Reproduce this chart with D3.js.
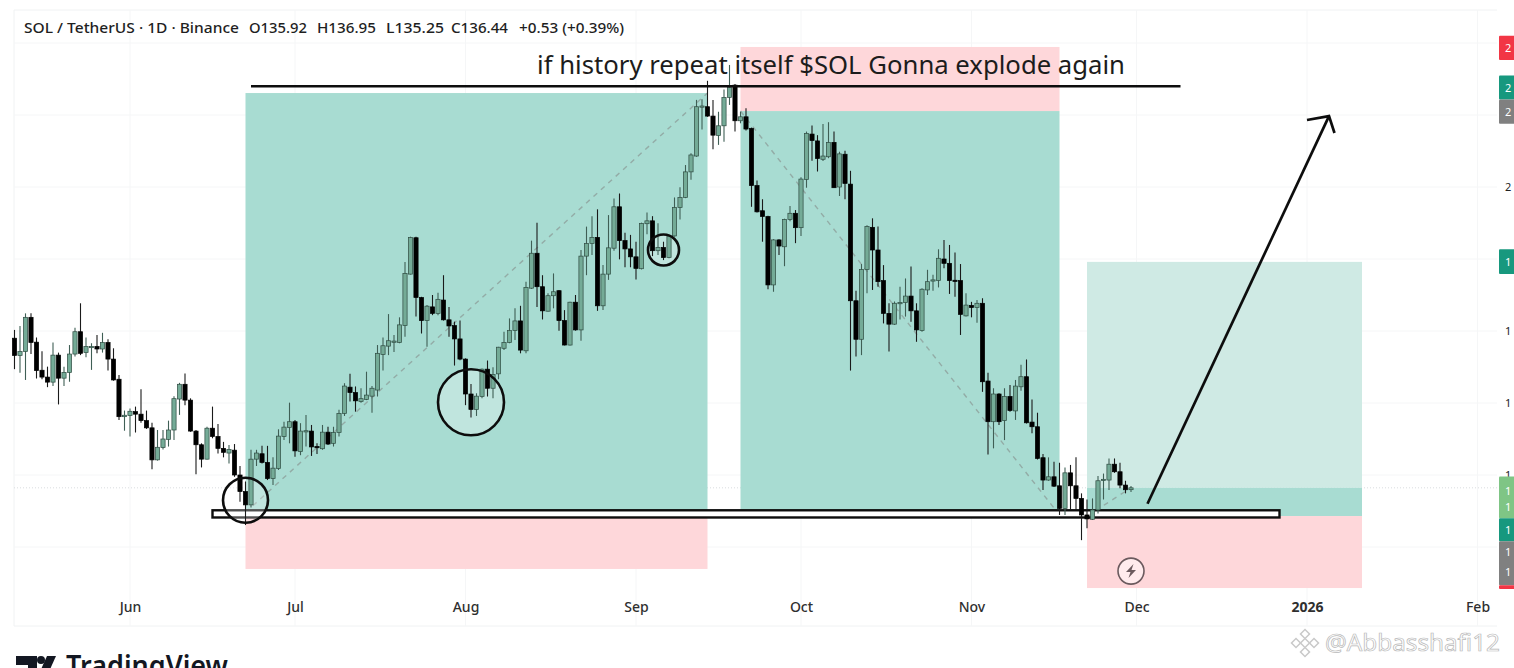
<!DOCTYPE html>
<html>
<head>
<meta charset="utf-8">
<script src="https://cdn.jsdelivr.net/npm/d3@7"></script>
<style>
  html, body { margin: 0; padding: 0; background: #fff; overflow: hidden; }
  svg { display: block; }
</style>
</head>
<body>
<div id="chart"></div>
<script>
// Daily SOL/USDT candles, one per day from the first date on
const firstDay = "2025-05-11";

const opens = [
  178.0,173.2,174.3,183.8,176.9,169.1,167.2,165.8,173.3,166.9,
  168.5,173.6,179.8,174.0,175.5,175.7,175.0,176.8,172.2,166.6,
  156.2,156.5,157.6,156.9,155.1,153.1,144.2,147.6,149.9,152.5,
  161.1,165.2,160.8,152.2,148.4,144.4,153.0,150.7,147.4,146.1,
  146.9,140.0,135.4,131.7,144.4,145.9,143.5,139.0,141.8,150.7,
  153.2,154.8,146.5,152.0,152.2,147.9,147.3,151.9,148.8,151.8,
  157.1,164.4,162.9,160.4,161.0,161.9,163.6,173.5,175.8,177.0,
  176.8,181.5,195.8,205.9,189.3,182.9,186.7,184.9,188.6,183.1,
  181.5,177.8,172.2,162.5,158.2,161.8,169.4,164.1,168.1,175.2,
  176.8,180.1,182.8,174.5,191.9,201.6,192.3,185.5,189.8,191.2,
  182.9,176.1,188.0,180.3,200.8,204.3,206.0,187.0,195.8,203.0,
  214.5,205.1,202.8,200.6,197.3,209.8,210.6,202.3,203.2,200.4,
  206.4,214.3,217.1,
  224.2,228.6,242.3,242.3,239.7,234.3,237.0,
  244.9,248.3,238.4,239.5,236.3,220.4,213.4,211.8,192.8,205.3,
  203.4,211.0,212.7,208.7,222.1,234.7,232.8,227.7,228.4,232.4,
  220.0,229.1,220.8,188.4,177.7,197.1,208.8,202.5,194.0,184.9,
  181.9,187.7,187.9,189.7,185.6,180.1,191.4,194.0,
  194.0,200.0,198.8,194.1,194.0,184.2,187.1,186.5,187.7,166.1,
  154.8,162.5,155.1,161.8,157.8,164.5,167.3,154.7,153.4,144.8,
  138.6,139.5,137.0,130.7,140.6,137.0,133.5,128.9,127.7,130.3,
  138.5,138.6,143.0,140.9,137.2,135.92
];

const highs = [
  180.3,181.4,184.9,184.9,178.2,174.4,170.1,176.8,174.0,170.1,
  176.1,180.9,187.7,178.2,176.6,178.9,179.5,177.7,175.2,167.8,
  157.9,158.5,159.0,163.8,157.9,154.5,152.5,152.5,155.1,161.9,
  165.6,168.2,161.3,152.5,148.8,153.4,159.0,154.2,149.2,148.3,
  148.6,142.5,138.2,147.0,147.0,148.1,148.1,144.9,152.7,154.8,
  160.1,155.3,154.4,156.7,153.9,148.8,153.9,153.4,153.4,158.1,
  165.5,168.1,164.6,164.1,168.7,164.7,176.1,178.2,184.7,178.9,
  183.8,199.2,206.2,206.2,189.5,187.2,190.0,190.6,195.5,186.7,
  182.6,182.9,172.4,165.3,162.7,169.6,171.8,169.9,175.6,179.8,
  183.5,186.3,187.0,193.7,205.1,210.1,195.5,190.5,196.0,191.4,
  185.8,188.1,190.0,202.5,209.0,211.9,213.8,198.3,212.2,216.8,
  218.2,207.3,206.7,204.8,210.1,212.9,211.9,209.9,204.8,206.7,
  217.1,219.9,226.1,
  229.4,244.2,244.4,249.5,244.2,240.9,247.1,
  253.9,248.6,240.9,241.9,236.5,221.8,216.6,212.0,205.5,205.5,
  211.2,214.7,213.6,222.7,235.4,237.1,234.4,237.5,238.0,235.4,
  229.8,230.1,224.5,191.2,198.6,209.4,211.3,209.0,198.3,187.7,
  188.2,192.3,194.6,197.9,187.7,191.9,197.0,195.6,
  202.7,205.3,203.9,201.8,198.6,190.5,188.1,188.6,189.1,168.4,
  164.1,162.7,164.1,165.0,166.4,170.6,172.1,161.0,157.3,145.8,
  144.9,143.7,143.4,142.1,142.8,144.9,134.9,133.2,133.5,139.7,
  140.4,144.6,144.6,143.4,138.4,136.95
];

const lows = [
  169.4,168.4,166.4,173.6,166.8,166.6,164.4,164.7,159.6,164.7,
  165.9,172.9,173.3,172.7,169.2,173.8,174.0,169.0,166.2,155.3,
  152.3,150.7,151.8,154.5,152.8,141.6,144.0,147.1,147.9,149.7,
  156.7,159.4,152.0,140.2,142.1,144.3,150.2,146.0,144.9,143.2,
  139.5,132.6,126.1,131.0,142.5,143.2,138.6,137.2,141.4,149.7,
  148.8,145.1,145.5,147.9,145.3,145.8,147.0,148.3,147.9,150.7,
  156.4,160.4,157.6,160.1,160.8,157.3,161.8,169.0,173.3,174.2,
  176.6,178.4,195.7,184.0,179.3,175.6,184.4,184.4,182.9,178.4,
  170.4,171.9,159.4,156.0,156.4,161.3,161.8,161.3,166.6,174.7,
  176.6,177.5,173.8,173.8,191.7,186.7,183.2,185.4,186.3,180.1,
  176.0,176.0,180.1,177.3,195.5,201.1,185.6,185.8,194.2,202.3,
  199.9,197.7,197.7,194.3,197.1,206.9,200.8,201.1,199.7,200.2,
  206.2,211.0,216.9,
  222.0,228.4,236.0,239.5,230.5,231.7,232.6,
  242.8,235.4,237.7,235.7,214.5,212.9,204.8,191.6,190.9,201.1,
  198.0,210.5,204.4,206.4,219.8,227.3,224.3,227.2,228.0,219.7,
  217.5,216.6,169.0,172.9,173.3,190.5,191.4,192.3,182.1,174.3,
  181.7,183.2,184.0,182.6,177.0,179.8,190.0,191.2,
  192.1,197.4,190.3,189.5,178.9,184.0,183.8,182.3,163.1,145.7,
  147.4,153.9,149.7,157.6,155.3,163.4,154.3,151.6,144.3,135.8,
  138.4,136.7,128.9,128.9,130.3,130.3,121.9,125.2,127.5,129.3,
  133.2,135.8,140.6,136.3,134.9,135.25
];

const closes = [
  173.2,174.3,183.8,176.8,169.0,167.2,165.8,173.3,166.9,168.5,
  173.6,179.8,173.8,175.7,175.7,175.0,176.8,172.2,166.4,156.2,
  156.6,157.7,156.9,155.1,153.1,144.2,147.7,150.0,152.5,161.2,
  165.2,160.8,152.2,148.4,144.4,153.0,150.7,147.4,146.3,147.1,
  140.0,135.4,131.7,144.4,146.1,143.5,139.0,141.9,150.8,153.3,
  154.8,146.7,152.2,152.3,147.8,147.6,151.9,148.6,151.8,157.1,
  164.7,162.9,160.6,161.2,162.2,164.1,173.8,175.9,177.3,177.2,
  181.7,196.0,206.0,189.3,182.9,186.9,184.9,188.8,183.1,181.4,
  177.8,172.2,162.5,158.2,161.9,169.4,164.1,167.9,175.5,176.8,
  180.1,182.8,174.7,192.1,201.6,192.3,185.6,189.8,190.9,182.9,
  176.1,188.0,180.3,200.8,204.3,206.0,187.0,195.8,203.1,214.5,
  205.1,202.8,200.6,197.4,209.9,210.6,202.3,203.2,200.4,206.4,
  214.3,217.1,224.2,
  228.9,242.3,242.5,239.7,234.4,237.0,244.9,
  247.7,238.4,239.5,236.1,220.4,213.1,211.8,192.8,205.3,203.6,
  211.0,212.7,208.7,222.2,234.9,232.9,227.9,228.6,232.4,219.8,
  229.2,221.0,188.4,177.7,197.1,209.0,202.5,193.7,184.9,181.9,
  187.7,187.9,189.7,185.6,180.3,191.6,193.7,194.2,
  200.2,198.8,194.0,193.9,184.6,187.2,186.5,187.7,165.9,154.8,
  162.5,154.8,161.8,157.9,164.7,167.3,154.5,153.4,144.6,138.6,
  139.5,136.9,130.7,140.6,137.0,133.5,128.9,127.8,130.3,138.4,
  138.8,143.0,140.9,137.2,135.9,136.44
];

// Axis content
const monthTicks = ["2025-06-01","2025-07-01","2025-08-01","2025-09-01","2025-10-01","2025-11-01","2025-12-01","2026-01-01","2026-02-01"];
const monthLabels = ["Jun","Jul","Aug","Sep","Oct","Nov","Dec","2026","Feb"];
const priceTicks = [260,240,220,200,180,160,140,120];
// only these stick out from under the badges, and only the first digit is on screen
const plainPriceLabels = [220,180,160,140];
const lastPrice = 136.44;

// Drawn positions: [start, end, top price, entry price, stop price]
const positions = [
  ["2025-06-22","2025-09-14",246.1,128.9,113.9],
  ["2025-09-20","2025-11-17",241.1,128.9,258.9],
  ["2025-11-22","2026-01-11",199.2,128.6,108.6]
];

// Drawings on the chart
const supportZone = ["2025-06-16","2025-12-27",130.2,128.2];
const topLine = ["2025-06-23","2025-12-09",248];
const trendLines = [
  ["2025-06-22",129.6,"2025-09-14",246.1],
  ["2025-09-20",241.1,"2025-11-17",128.9],
  ["2025-11-22",128.6,"2025-11-30",136.44]
];
const circles = [
  ["2025-06-22",133.0,22.5],
  ["2025-08-02",160.2,33],
  ["2025-09-06",202.5,15.5]
];
const arrowLine = [["2025-12-03",132],["2026-01-05",239.7]];
const arrowHead = [["2026-01-01",238.6],["2026-01-05",239.7],["2026-01-06",235]];

// Colored price badges at the right edge: [top price, bottom price, color]
const badges = [
  [262.0,255.3,"#f23645"],
  [251.0,244.3,"#17987e"],
  [244.3,237.6,"#808080"],
  [202.7,195.8,"#17987e"],
  [139.6,128.0,"#7fc585"],
  [128.0,121.6,"#17987e"],
  [121.6,109.4,"#808080"],
  [109.4,108.3,"#f23645"]
];
// Digits in the badges: [price, digit]
const badgeDigits = [
  [258.6,"2"],[247.5,"2"],[240.8,"2"],[199.2,"1"],
  [135.6,"1"],[131.2,"1"],[124.6,"1"],[118.5,"1"],[113.0,"1"]
];

const width = 1514, height = 668;
const parseDay = d3.utcParse("%Y-%m-%d");

const candles = opens.map((o, i) => ({
  date: d3.utcDay.offset(parseDay(firstDay), i),
  open: o, high: highs[i], low: lows[i], close: closes[i]
}));

const svg = d3.select("#chart").append("svg")
  .attr("width", width)
  .attr("height", height)
  .style("font-family", "'Noto Sans', sans-serif");

const x = d3.scaleUtc()
  .domain([parseDay("2025-06-01"), parseDay("2026-02-01")])
  .range([130, 1477.5]);

const y = d3.scaleLinear()
  .domain([260, 120])
  .range([43, 547]);

// Pane frame
svg.append("path")
  .attr("d", "M1497,10H14V626H1497")
  .attr("fill", "none")
  .attr("stroke", "#f0f2f3");

// Grid
const grid = svg.append("g").attr("stroke", "#f5f6f7");
grid.selectAll("line.v")
  .data(monthTicks)
  .join("line")
  .attr("class", "v")
  .attr("x1", d => x(parseDay(d)))
  .attr("x2", d => x(parseDay(d)))
  .attr("y1", 10)
  .attr("y2", 626);
grid.selectAll("line.h")
  .data(priceTicks)
  .join("line")
  .attr("class", "h")
  .attr("x1", 14)
  .attr("x2", 1497)
  .attr("y1", d => y(d))
  .attr("y2", d => y(d));

// Current price line
svg.append("line")
  .attr("x1", 14)
  .attr("x2", 1497)
  .attr("y1", y(lastPrice))
  .attr("y2", y(lastPrice))
  .attr("stroke", "#d9dddf")
  .attr("stroke-dasharray", "1,2");

// Position boxes
const boxes = svg.append("g");
positions.forEach((p, i) => {
  const x0 = x(parseDay(p[0])), x1 = x(parseDay(p[1]));
  const addBox = (a, b, color) => boxes.append("rect")
    .attr("x", x0)
    .attr("width", x1 - x0)
    .attr("y", y(Math.max(a, b)))
    .attr("height", Math.abs(y(a) - y(b)))
    .attr("fill", color);
  if (i < 2) {
    addBox(p[2], p[3], "#a8dcd2");
  } else {
    // the last one has a lighter target part above the current price
    addBox(p[2], lastPrice, "#cfeae4");
    addBox(lastPrice, p[3], "#a8dcd2");
  }
  addBox(i === 1 ? p[2] : p[3], p[4], "#fed7da");
});

// Dashed lines from the position tools
svg.append("g")
  .selectAll("line")
  .data(trendLines)
  .join("line")
  .attr("x1", d => x(parseDay(d[0])))
  .attr("y1", d => y(d[1]))
  .attr("x2", d => x(parseDay(d[2])))
  .attr("y2", d => y(d[3]))
  .attr("stroke", "#8c9c98")
  .attr("stroke-width", 1.4)
  .attr("stroke-dasharray", "5,5")
  .attr("opacity", 0.75);

// Support zone
svg.append("rect")
  .attr("x", x(parseDay(supportZone[0])))
  .attr("width", x(parseDay(supportZone[1])) - x(parseDay(supportZone[0])))
  .attr("y", y(supportZone[2]))
  .attr("height", y(supportZone[3]) - y(supportZone[2]))
  .attr("fill", "#fff")
  .attr("stroke", "#0d0d0d")
  .attr("stroke-width", 2.4);

// Circle fills go under the candles, their outlines over them
svg.append("g")
  .selectAll("circle")
  .data(circles)
  .join("circle")
  .attr("cx", d => x(parseDay(d[0])))
  .attr("cy", d => y(d[1]))
  .attr("r", d => d[2])
  .attr("fill", "#fff")
  .attr("fill-opacity", 0.28);

// Candles
const candleGroup = svg.append("g");
candleGroup.selectAll("line")
  .data(candles)
  .join("line")
  .attr("x1", d => x(d.date))
  .attr("x2", d => x(d.date))
  .attr("y1", d => y(d.high))
  .attr("y2", d => y(d.low))
  .attr("stroke", d => d.close >= d.open ? "#3f5f55" : "#1a1a1a")
  .attr("stroke-width", 1.1);
candleGroup.selectAll("rect")
  .data(candles)
  .join("rect")
  .attr("x", d => x(d.date) - 2.1)
  .attr("width", 4.2)
  .attr("y", d => y(Math.max(d.open, d.close)))
  .attr("height", d => Math.max(1.2, Math.abs(y(d.open) - y(d.close))))
  .attr("fill", d => d.close >= d.open ? "#74ab97" : "#000")
  .attr("stroke", d => d.close >= d.open ? "#2e4a41" : "#000")
  .attr("stroke-width", 0.7);

svg.append("g")
  .selectAll("circle")
  .data(circles)
  .join("circle")
  .attr("cx", d => x(parseDay(d[0])))
  .attr("cy", d => y(d[1]))
  .attr("r", d => d[2])
  .attr("fill", "none")
  .attr("stroke", "#0d0d0d")
  .attr("stroke-width", 2.6);

// Black line above the rally and the title on it
svg.append("line")
  .attr("x1", x(parseDay(topLine[0])))
  .attr("x2", x(parseDay(topLine[1])))
  .attr("y1", y(topLine[2]))
  .attr("y2", y(topLine[2]))
  .attr("stroke", "#0d0d0d")
  .attr("stroke-width", 2.4);

svg.append("text")
  .attr("x", 537)
  .attr("y", 74)
  .attr("textLength", 588)
  .attr("lengthAdjust", "spacingAndGlyphs")
  .style("font-size", "26px")
  .style("fill", "#1c1c1c")
  .text("if history repeat itself $SOL Gonna explode again");

// Arrow to the target
const arrowPath = d3.line()
  .x(d => x(parseDay(d[0])))
  .y(d => y(d[1]));
svg.append("g")
  .attr("fill", "none")
  .attr("stroke", "#0d0d0d")
  .attr("stroke-width", 2.7)
  .selectAll("path")
  .data([arrowLine, arrowHead])
  .join("path")
  .attr("d", arrowPath);

// Lightning mark near Dec
const flash = svg.append("g")
  .attr("transform", `translate(${x(parseDay("2025-11-30"))},${y(113.3)})`);
flash.append("circle")
  .attr("r", 13)
  .attr("fill", "#fff")
  .attr("fill-opacity", 0.5)
  .attr("stroke", "#6b5a5e")
  .attr("stroke-width", 1.6);
flash.append("path")
  .attr("d", "M2.5,-7 L-5,1 L-0.5,1 L-2.5,7 L5,-1 L0.5,-1 Z")
  .attr("fill", "#6b5a5e");

// Price axis, the screenshot only keeps the first digit of each label
const yAxis = d3.axisRight(y)
  .tickValues(plainPriceLabels)
  .tickSize(0)
  .tickPadding(0)
  .tickFormat(d => String(d)[0]);
svg.append("g")
  .attr("transform", "translate(1505,0)")
  .call(yAxis)
  .call(g => g.select(".domain").remove())
  .selectAll("text")
  .style("font-size", "11px")
  .style("font-family", "'Noto Sans', sans-serif")
  .style("fill", "#222");

// Badges
svg.append("g")
  .selectAll("rect")
  .data(badges)
  .join("rect")
  .attr("x", 1499)
  .attr("width", 16)
  .attr("y", d => y(d[0]))
  .attr("height", d => y(d[1]) - y(d[0]))
  .attr("rx", 1)
  .attr("fill", d => d[2]);
svg.append("g")
  .selectAll("text")
  .data(badgeDigits)
  .join("text")
  .attr("x", 1505)
  .attr("y", d => y(d[0]) + 4)
  .style("font-size", "11px")
  .style("fill", "#fff")
  .text(d => d[1]);

// Time axis
const xAxis = d3.axisBottom(x)
  .tickValues(monthTicks.map(parseDay))
  .tickSize(0)
  .tickPadding(0)
  .tickFormat((d, i) => monthLabels[i]);
svg.append("g")
  .attr("transform", "translate(0,602)")
  .call(xAxis)
  .call(g => g.select(".domain").remove())
  .selectAll("text")
  .style("font-size", "14px")
  .style("font-family", "'Noto Sans', sans-serif")
  .style("font-weight", (d, i) => monthLabels[i] === "2026" ? "700" : "500")
  .style("fill", "#2f2f2f");

// Header line, placed piece by piece: [x, width, text]
const headerParts = [
  [24, 215, "SOL / TetherUS · 1D · Binance"],
  [249, 58, "O135.92"],
  [317, 59, "H136.95"],
  [386, 58, "L135.25"],
  [451, 57, "C136.44"],
  [519, 105, "+0.53 (+0.39%)"]
];
svg.append("g")
  .selectAll("text")
  .data(headerParts)
  .join("text")
  .attr("x", d => d[0])
  .attr("y", 33)
  .attr("textLength", d => d[1])
  .attr("lengthAdjust", "spacingAndGlyphs")
  .style("font-size", "14px")
  .style("font-weight", "500")
  .style("fill", "#1f1f1f")
  .text(d => d[2]);

// TradingView logo, cut by the bottom edge like in the screenshot
const logo = svg.append("g").attr("fill", "#131722");
logo.append("path").attr("d", "M16,656H37V676H28V665H16Z");
logo.append("circle").attr("cx", 41).attr("cy", 660).attr("r", 4);
logo.append("path").attr("d", "M47,656H56L47,676H38Z");
logo.append("text")
  .attr("x", 66)
  .attr("y", 676)
  .attr("textLength", 162)
  .attr("lengthAdjust", "spacingAndGlyphs")
  .style("font-size", "28px")
  .style("font-weight", "600")
  .text("TradingView");

// Watermark
const mark = svg.append("g")
  .attr("transform", "translate(1305,643)")
  .attr("fill", "#fff")
  .attr("stroke", "#c9c9c9")
  .attr("stroke-width", 1.5);
mark.selectAll("rect")
  .data([[0,-9],[-9,0],[9,0],[0,9],[0,0]])
  .join("rect")
  .attr("x", -3.2)
  .attr("y", -3.2)
  .attr("width", 6.4)
  .attr("height", 6.4)
  .attr("transform", d => `translate(${d[0]},${d[1]}) rotate(45)`);
svg.append("text")
  .attr("x", 1325)
  .attr("y", 651)
  .attr("textLength", 175)
  .attr("lengthAdjust", "spacingAndGlyphs")
  .style("font-size", "23px")
  .style("fill", "#fff")
  .style("stroke", "#b8b8b8")
  .style("stroke-width", 0.7)
  .text("@Abbasshafi12");
</script>
</body>
</html>
